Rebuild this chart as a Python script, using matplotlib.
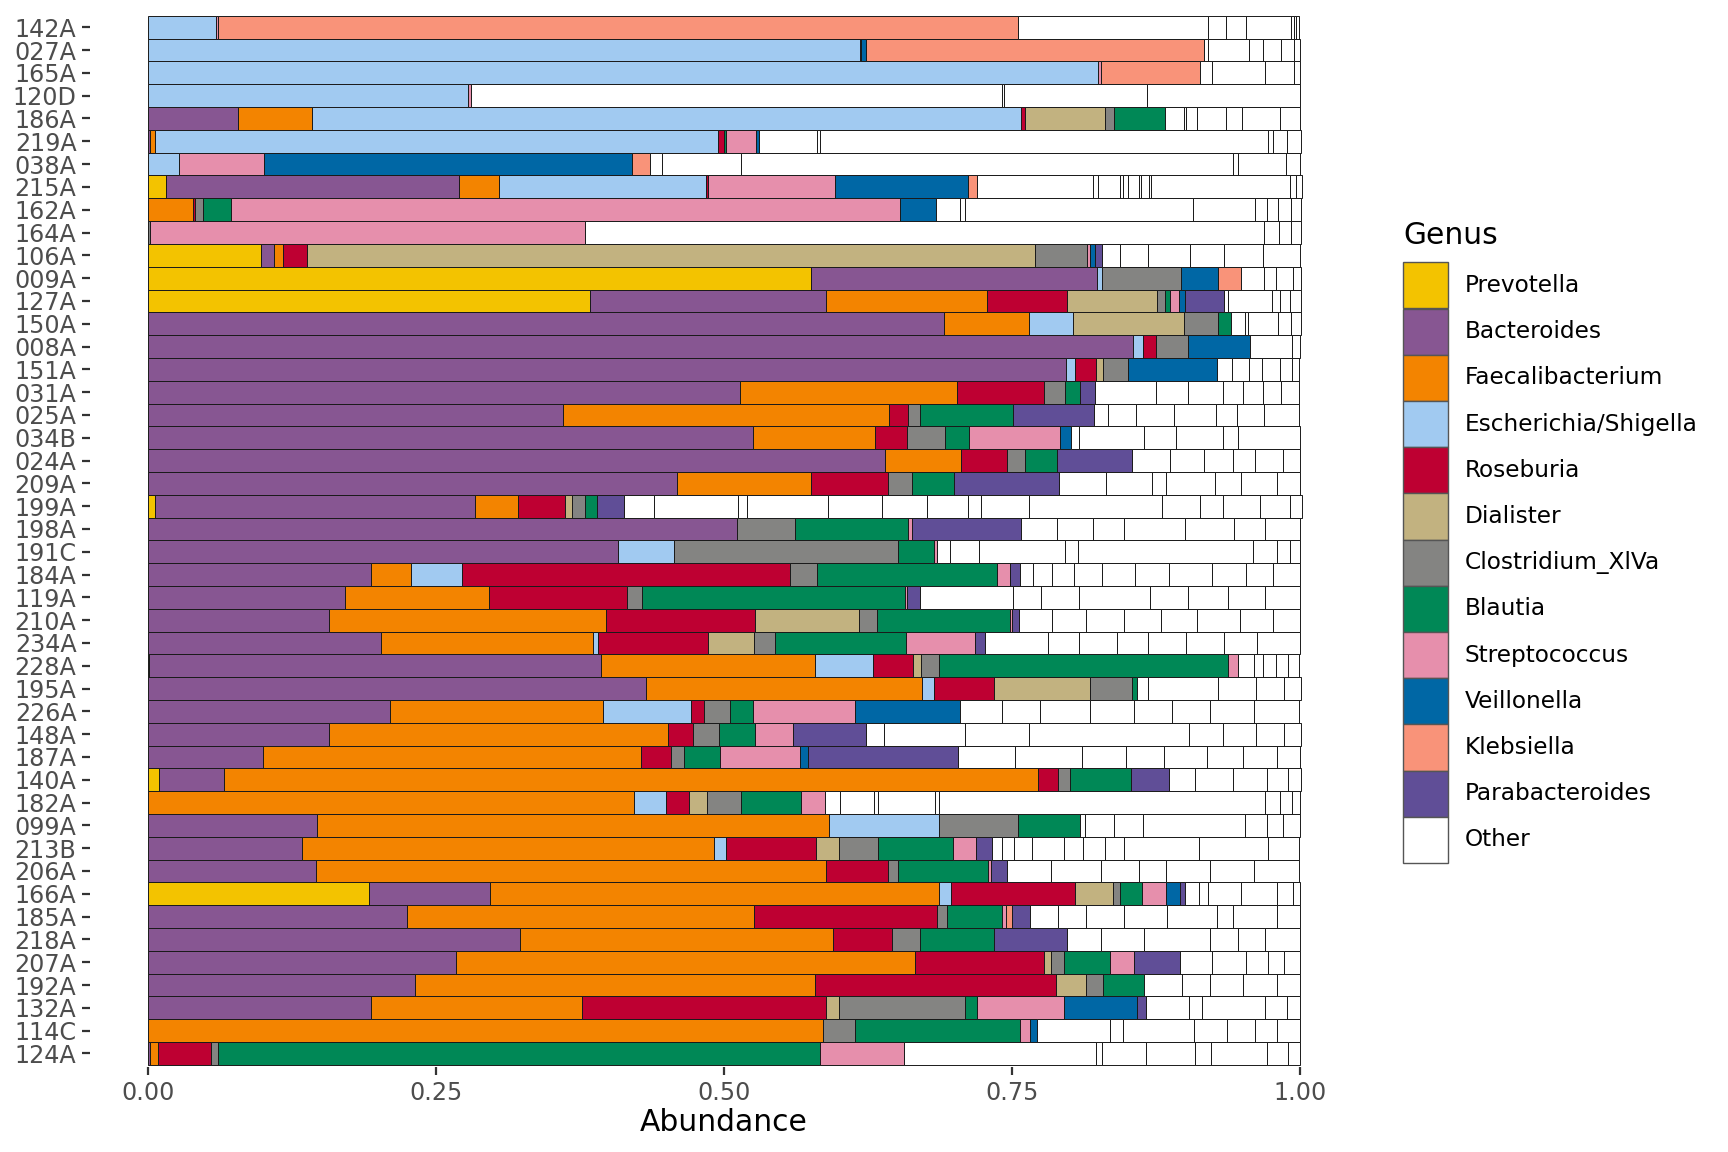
import matplotlib
matplotlib.use("Agg")
import matplotlib.pyplot as plt
from matplotlib.patches import Rectangle
import numpy as np

samples = ["142A", "027A", "165A", "120D", "186A", "219A", "038A", "215A", "162A", "164A",
           "106A", "009A", "127A", "150A", "008A", "151A", "031A", "025A", "034B", "024A",
           "209A", "199A", "198A", "191C", "184A", "119A", "210A", "234A", "228A", "195A",
           "226A", "148A", "187A", "140A", "182A", "099A", "213B", "206A", "166A", "185A",
           "218A", "207A", "192A", "132A", "114C", "124A"]

genera = ["Prevotella", "Bacteroides", "Faecalibacterium", "Escherichia/Shigella",
          "Roseburia", "Dialister", "Clostridium_XlVa", "Blautia", "Streptococcus",
          "Veillonella", "Klebsiella", "Parabacteroides", "Other"]

colors = ["#F3C300", "#875692", "#F38400", "#A1CAF1", "#BE0032", "#C2B280", "#848482",
          "#008856", "#E68FAC", "#0067A5", "#F99379", "#604E97", "#FFFFFF"]

# abundance per genus, one value per sample (same order as samples)
prevotella = [0, 0, 0, 0, 0, 0, 0, .016, 0, 0, .098, .576, .384, 0, 0, 0, 0, 0, 0, 0,
              0, .006, 0, 0, 0, 0, 0, 0, .001, 0, 0, 0, 0, .01, 0, 0, 0, 0, .192, 0,
              0, 0, 0, 0, 0, 0]
bacteroides = [0, 0, 0, 0, .078, .002, 0, .254, 0, 0, .011, .248, .205, .691, .855, .797, .514, .36, .525, .64,
               .459, .278, .511, .408, .194, .171, .157, .202, .392, .432, .21, .157, .1, .056, 0, .147, .134, .146, .105, .225,
               .323, .267, .232, .194, 0, .002]
faecalibacterium = [0, 0, 0, 0, .064, .004, 0, .035, .039, 0, .008, 0, .139, .074, 0, 0, .188, .283, .106, .066,
                    .117, .037, 0, 0, .034, .125, .241, .184, .186, .24, .185, .294, .328, .707, .422, .444, .357, .443, .39, .301,
                    .272, .399, .347, .183, .586, .007]
escherichia = [.059, .618, .825, .278, .616, .489, .027, .179, 0, 0, 0, .004, 0, .038, .009, .008, 0, 0, 0, 0,
               0, 0, 0, .049, .045, 0, 0, .005, .05, .01, .076, 0, 0, 0, .028, .096, .011, 0, .01, 0,
               0, 0, 0, 0, 0, 0]
roseburia = [0, 0, 0, 0, .003, .005, 0, .002, .002, 0, .021, 0, .07, 0, .011, .018, .076, .017, .028, .04,
             .066, .041, 0, 0, .284, .12, .129, .095, .035, .052, .012, .022, .026, .017, .02, 0, .078, .053, .108, .159,
             .051, .112, .209, .212, 0, .046]
dialister = [0, 0, 0, 0, .07, 0, 0, 0, 0, 0, .632, 0, .078, .096, 0, .006, 0, 0, 0, 0,
             0, .006, 0, 0, 0, 0, .09, .04, .007, .084, 0, 0, 0, 0, .015, 0, .02, 0, .033, 0,
             0, .006, .026, .011, 0, 0]
clostridium = [0, 0, 0, 0, .008, 0, 0, 0, .007, .002, .045, .069, .007, .03, .028, .022, .018, .01, .033, .015,
               .021, .011, .051, .194, .024, .013, .016, .018, .016, .036, .022, .023, .011, .01, .03, .068, .034, .009, .006, .009,
               .024, .011, .015, .109, .028, .006]
blautia = [0, 0, 0, 0, .044, .002, 0, 0, .024, 0, 0, 0, .004, .011, 0, 0, .013, .081, .021, .028,
           .037, .011, .098, .031, .156, .228, .115, .114, .251, .005, .02, .031, .032, .053, .052, .054, .065, .078, .019, .047,
           .064, .04, .036, .011, .143, .522]
streptococcus = [.002, .001, .002, .002, 0, .026, .074, .11, .581, .377, .003, 0, .008, 0, 0, 0, 0, 0, .079, 0,
                 0, 0, .003, .003, .011, .002, .002, .06, .008, 0, .089, .033, .069, 0, .021, 0, .02, .003, .021, .004,
                 0, .021, 0, .075, .009, .073]
veillonella = [0, .004, 0, 0, 0, .002, .319, .116, .031, 0, .004, .032, .005, 0, .054, .077, 0, 0, .009, 0,
               0, 0, 0, 0, 0, 0, 0, 0, 0, 0, .091, 0, .007, 0, 0, 0, 0, 0, .012, 0,
               0, 0, 0, .064, .006, 0]
klebsiella = [.694, .294, .086, 0, 0, 0, .016, .008, 0, 0, 0, .02, 0, 0, 0, 0, 0, 0, 0, 0,
              0, 0, 0, 0, 0, 0, 0, 0, 0, 0, 0, 0, 0, 0, 0, 0, 0, 0, 0, .005,
              0, 0, 0, 0, 0, 0]
parabacteroides = [0, 0, 0, 0, 0, 0, 0, 0, 0, 0, .006, 0, .034, 0, 0, 0, .013, .07, 0, .065,
                   .091, .023, .095, 0, .009, .011, .006, .009, 0, 0, 0, .063, .13, .033, 0, 0, .014, .014, .004, .016,
                   .064, .04, 0, .007, 0, 0]

# the many small OTUs lumped as "Other", one list per sample
other = [
    [.165, .016, .017, .039, .003, .002, .002],
    [.003, .036, .012, .016, .011, .005],
    [.011, .046, .025, .005],
    [.461, .002, .124, .133],
    [.016, .002, .010, .025, .014, .033, .017],
    [.051, .002, .389, .005, .012, .012],
    [.01, .069, .427, .004, .042, .012],
    [.1, .005, .019, .002, .005, .009, .002, .007, .002, .12, .006, .005],
    [.021, .004, .198, .054, .01, .01, .011, .009],
    [.59, .013, .01, .009],
    [.016, .024, .037, .029, .034, .032],
    [.02, .01, .015, .007],
    [.004, .038, .007, .008, .01],
    [.012, .003, .026, .011, .009],
    [.036, .007],
    [.013, .015, .011, .016, .01, .006],
    [.053, .028, .03, .018, .017, .016, .015],
    [.012, .025, .033, .036, .018, .024, .03],
    [.007, .057, .027, .041, .013, .054],
    [.033, .03, .025, .019, .024, .015],
    [.041, .04, .012, .042, .023, .031, .02],
    [.026, .073, .008, .07, .047, .039, .036, .011, .042, .115, .033, .02, .032, .026, .011],
    [.031, .031, .027, .053, .043, .027, .03],
    [.011, .025, .075, .011, .152, .021, .011, .009],
    [.011, .017, .019, .024, .029, .029, .038, .029, .024, .023],
    [.081, .024, .033, .062, .033, .035, .032, .03],
    [.029, .029, .033, .032, .032, .037, .029, .023],
    [.054, .027, .033, .027, .033, .033, .029, .037],
    [.014, .008, .011, .011, .009],
    [.009, .061, .033, .024, .015],
    [.036, .033, .044, .038, .033, .033, .038, .039],
    [.016, .07, .056, .139, .029, .029, .024, .015],
    [.05, .058, .038, .033, .037, .032, .029, .02],
    [.023, .033, .029, .019, .011],
    [.013, .029, .004, .049, .004, .283, .013, .01, .007],
    [.004, .026, .025, .088, .019, .014, .015],
    [.008, .011, .015, .028, .017, .019, .016, .065, .06, .027],
    [.038, .043, .033, .024, .038, .038, .039],
    [.012, .008, .029, .031, .014, .006],
    [.024, .024, .033, .038, .043, .014, .038, .02],
    [.029, .038, .057, .024, .024, .03],
    [.028, .029, .019, .014, .014],
    [.033, .024, .029, .029, .02],
    [.038, .011, .055, .019, .011],
    [.063, .011, .062, .029, .024, .019, .02],
    [.167, .005, .038, .043, .014, .048, .019, .01],
]

genus_values = [prevotella, bacteroides, faecalibacterium, escherichia, roseburia, dialister,
                clostridium, blautia, streptococcus, veillonella, klebsiella, parabacteroides]

edge = "#1a1a1a"
lw = 0.35

fig = plt.figure(figsize=(8.64, 5.76), dpi=200)
ax = fig.add_axes([0.0523, 0.0737, 0.7333, 0.9145])

ypos = np.arange(len(samples))
left = np.zeros(len(samples))
for vals, col in zip(genus_values, colors):
    vals = np.array(vals, dtype=float)
    m = vals > 0
    ax.barh(ypos[m], vals[m], left=left[m], height=1.0, color=col,
            edgecolor=edge, linewidth=lw)
    left += vals

for i, segs in enumerate(other):
    start = left[i]
    for s in segs:
        ax.barh(i, s, left=start, height=1.0, color="white", edgecolor=edge, linewidth=lw)
        start += s

ax.set_xlim(-0.05, 1.05)
ax.set_ylim(len(samples) - 0.4, -0.6)
ax.set_yticks(ypos)
ax.set_yticklabels(samples)
ax.set_xticks([0, 0.25, 0.5, 0.75, 1.0])
ax.set_xticklabels(["0.00", "0.25", "0.50", "0.75", "1.00"])
for sp in ax.spines.values():
    sp.set_visible(False)
ax.tick_params(axis="both", length=2.75, width=0.8, color="#333333",
               labelcolor="#4D4D4D", labelsize=8.6, pad=2.2)
ax.set_xlabel("Abundance", fontsize=10.7, color="black", labelpad=1)

# legend drawn in figure pixel space
lax = fig.add_axes([0, 0, 1, 1])
lax.set_xlim(0, 1728)
lax.set_ylim(1152, 0)
lax.axis("off")
lax.text(1403, 235, "Genus", fontsize=10.7, va="center", ha="left")
key_h = 46.2
for j, (g, col) in enumerate(zip(genera, colors)):
    y0 = 262.3 + j * key_h
    lax.add_patch(Rectangle((1403, y0), 45, key_h, facecolor=col,
                            edgecolor="#555555", linewidth=0.5))
    lax.text(1465, y0 + key_h / 2, g, fontsize=8.4, va="center", ha="left")

fig.savefig("out.png", dpi=200)
plt.close(fig)
